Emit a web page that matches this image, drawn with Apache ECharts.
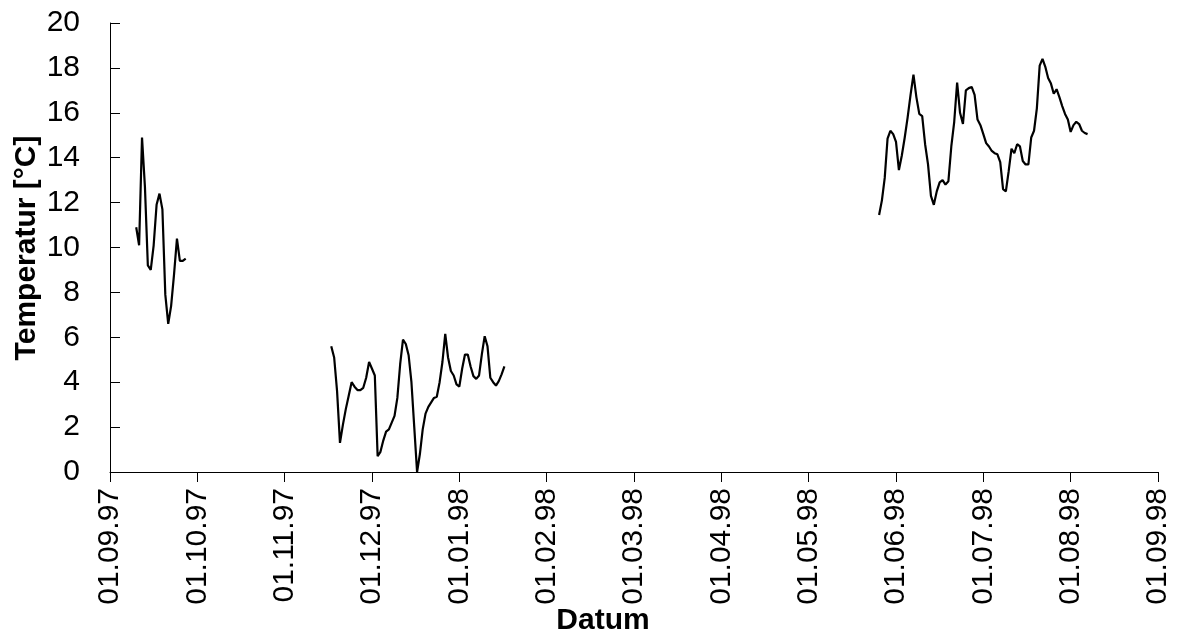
<!DOCTYPE html>
<html>
<head>
<meta charset="utf-8">
<script src="https://cdn.jsdelivr.net/npm/echarts@6/dist/echarts.min.js"></script>
<style>
  html, body { margin: 0; padding: 0; background: #fff; }
  #chart { width: 1177px; height: 637px; }
</style>
</head>
<body>
<div id="chart"></div>
<script>
// Month tick labels of the date axis (one per month start)
const monthLabels = ['01.09.97', '01.10.97', '01.11.97', '01.12.97', '01.01.98', '01.02.98',
  '01.03.98', '01.04.98', '01.05.98', '01.06.98', '01.07.98', '01.08.98', '01.09.98'];

// Daily water temperatures [°C], three measuring campaigns
const seg1Start = '1997-09-10';
const seg1Temps = [10.9, 10.1, 14.9, 12.7, 9.2, 9.0, 10.1, 11.9, 12.4, 11.7, 7.9, 6.6, 7.4, 8.8, 10.4, 9.4, 9.4, 9.5];

const seg2Start = '1997-11-17';
const seg2Temps = [
  5.6, 5.1, 3.6, 1.3, 2.1, 2.8, 3.4, 4.0, 3.8, 3.65, 3.65, 3.75, 4.2, 4.9,
  4.6, 4.3, 0.7, 0.9, 1.4, 1.8, 1.9, 2.2, 2.5, 3.3, 4.8, 5.9, 5.7, 5.2, 4.0, 2.0,
  0.0, 0.8, 1.9, 2.6, 2.9, 3.1, 3.3, 3.35, 4.0, 4.9, 6.15, 5.1, 4.5, 4.3, 3.9,
  3.8, 4.6, 5.23, 5.23, 4.7, 4.27, 4.15, 4.3, 5.25, 6.05, 5.6, 4.2, 4.0, 3.85, 4.05, 4.35, 4.7
];

const seg3Start = '1998-05-26';
const seg3Temps = [
  11.45, 12.1, 13.1, 14.85, 15.2, 15.05,
  14.7, 13.45, 14.1, 14.9, 15.8, 16.8, 17.7, 16.7, 15.95, 15.85,
  14.6, 13.7, 12.3, 11.9, 12.5, 12.9, 13.0, 12.8, 12.95, 14.5,
  15.6, 17.35, 16.0, 15.5, 17.0, 17.1, 17.15, 16.8, 15.7, 15.45,
  15.05, 14.65, 14.5, 14.3, 14.2, 14.15, 13.8, 12.6, 12.5, 13.4,
  14.4, 14.2, 14.6, 14.5, 13.85, 13.7, 13.7, 14.9, 15.2, 16.2,
  18.1, 18.4, 18.05, 17.55, 17.3, 16.85, 17.05, 16.7, 16.3, 15.95, 15.7,
  15.15, 15.45, 15.6, 15.5, 15.2, 15.1, 15.05
];

// The date axis gives every month the same width: position = months since 01.09.97
// plus the fraction of the month already elapsed.
function axisPos(startStr, dayOffset) {
  const [y, m, d] = startStr.split('-').map(Number);
  const dt = new Date(Date.UTC(y, m - 1, d + dayOffset));
  const yy = dt.getUTCFullYear(), mm = dt.getUTCMonth(), dd = dt.getUTCDate();
  const daysInMonth = new Date(Date.UTC(yy, mm + 1, 0)).getUTCDate();
  return (yy - 1997) * 12 + (mm - 8) + (dd - 1) / daysInMonth;
}

function toPoints(start, temps) {
  return temps.map((t, i) => [axisPos(start, i), t]);
}

const font = "'Liberation Sans', Arial, sans-serif";
const fontSize = 30;

function lineSeries(data) {
  return {
    type: 'line',
    data: data,
    showSymbol: false,
    symbol: 'none',
    lineStyle: { color: '#000', width: 2.2 },
    animation: false
  };
}

const chart = echarts.init(document.getElementById('chart'), null, { renderer: 'canvas' });

chart.setOption({
  backgroundColor: '#fff',
  animation: false,
  grid: { left: 110, right: 19, top: 23, bottom: 165, containLabel: false },
  xAxis: {
    type: 'value',
    min: 0,
    max: 12,
    interval: 1,
    axisLine: { show: true, lineStyle: { color: '#000', width: 1 } },
    axisTick: { show: true, inside: false, length: 10, lineStyle: { color: '#000' } },
    splitLine: { show: false },
    axisLabel: {
      rotate: 90,
      margin: 16,
      color: '#000',
      fontFamily: font,
      fontSize: fontSize,
      formatter: v => monthLabels[Math.round(v)]
    }
  },
  yAxis: {
    type: 'value',
    min: 0,
    max: 20,
    interval: 2,
    axisLine: { show: true, lineStyle: { color: '#000', width: 1 } },
    axisTick: { show: true, inside: true, length: 10, lineStyle: { color: '#000' } },
    splitLine: { show: false },
    axisLabel: {
      margin: 30,
      color: '#000',
      fontFamily: font,
      fontSize: fontSize
    }
  },
  graphic: [
    {
      type: 'text',
      x: 27, y: 248,
      rotation: Math.PI / 2,
      style: {
        text: 'Temperatur [°C]',
        fill: '#000',
        font: 'bold ' + fontSize + 'px ' + font,
        textAlign: 'center',
        textVerticalAlign: 'middle'
      }
    },
    {
      type: 'text',
      x: 603, y: 621,
      style: {
        text: 'Datum',
        fill: '#000',
        font: 'bold ' + fontSize + 'px ' + font,
        textAlign: 'center',
        textVerticalAlign: 'middle'
      }
    }
  ],
  series: [
    lineSeries(toPoints(seg1Start, seg1Temps)),
    lineSeries(toPoints(seg2Start, seg2Temps)),
    lineSeries(toPoints(seg3Start, seg3Temps))
  ]
});
</script>
</body>
</html>
